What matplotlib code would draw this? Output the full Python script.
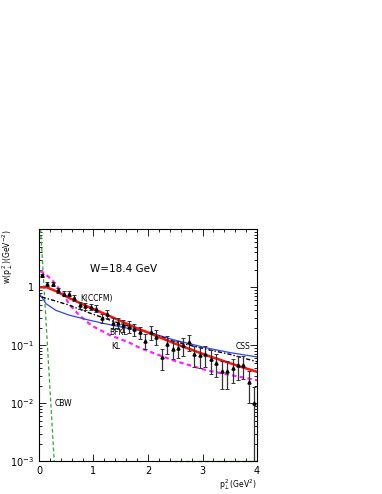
import numpy as np
import matplotlib.pyplot as plt
from matplotlib.ticker import MultipleLocator, LogLocator, FixedLocator, NullFormatter

# data points (W = 18.4 GeV)
pt2 = [0.05, 0.15, 0.25, 0.35, 0.45, 0.55, 0.65, 0.75, 0.85, 0.95,
       1.05, 1.15, 1.25, 1.35, 1.45, 1.55, 1.65, 1.75, 1.85, 1.95,
       2.05, 2.15, 2.25, 2.35, 2.45, 2.55, 2.65, 2.75, 2.85, 2.95,
       3.05, 3.15, 3.25, 3.35, 3.45, 3.55, 3.65, 3.75, 3.85, 3.95]
w = [1.6, 1.15, 1.15, 0.88, 0.78, 0.78, 0.66, 0.49, 0.47, 0.46,
     0.43, 0.29, 0.35, 0.24, 0.24, 0.22, 0.21, 0.19, 0.17, 0.12,
     0.17, 0.14, 0.063, 0.107, 0.088, 0.091, 0.10, 0.114, 0.07, 0.067,
     0.07, 0.057, 0.05, 0.036, 0.036, 0.04, 0.045, 0.046, 0.023, 0.010]
w_err = [0.12, 0.09, 0.09, 0.08, 0.07, 0.07, 0.07, 0.06, 0.06, 0.06,
         0.06, 0.05, 0.06, 0.05, 0.05, 0.05, 0.05, 0.045, 0.04, 0.035,
         0.045, 0.04, 0.025, 0.035, 0.03, 0.03, 0.035, 0.035, 0.028, 0.027,
         0.027, 0.025, 0.022, 0.018, 0.018, 0.018, 0.02, 0.02, 0.013, 0.0095]

# model curves
x_kccfm = [0.0, 0.14, 0.31, 0.56, 0.86, 1.17, 1.47, 1.78, 2.04, 2.46, 3.08, 3.69, 4.0]
y_kccfm = [1.0, 1.0, 0.86, 0.65, 0.48, 0.36, 0.27, 0.20, 0.16, 0.11, 0.067, 0.043, 0.035]

x_css = [0.02, 0.13, 0.31, 0.56, 0.86, 1.17, 1.47, 1.78, 2.04, 2.46, 3.08, 3.5, 4.0]
y_css = [0.75, 0.52, 0.40, 0.33, 0.28, 0.24, 0.21, 0.185, 0.165, 0.125, 0.09, 0.075, 0.063]

x_bfkl = [0.05, 0.25, 0.56, 0.86, 1.17, 1.47, 1.78, 2.04, 2.46, 3.08, 3.5, 4.0]
y_bfkl = [0.68, 0.60, 0.49, 0.38, 0.30, 0.24, 0.195, 0.165, 0.118, 0.085, 0.07, 0.052]

x_kl = [0.02, 0.1, 0.25, 0.43, 0.56, 0.74, 0.96, 1.3, 1.67, 1.85, 2.46, 3.08, 4.0]
y_kl = [1.9, 1.75, 1.3, 0.8, 0.5, 0.33, 0.22, 0.15, 0.11, 0.09, 0.055, 0.037, 0.025]

x_cbw = [0.03, 0.28]
y_cbw = [10.0, 0.001]
x_cbw_tail = [2.45, 4.0]
y_cbw_tail = [0.00102, 0.00102]

fig = plt.figure(figsize=(3.82, 4.94), dpi=100)
ax = fig.add_axes([0.102, 0.066, 0.571, 0.47])

ax.plot(x_cbw, y_cbw, color='#33aa33', ls=(0, (3, 2)), lw=0.9)
ax.plot(x_cbw_tail, y_cbw_tail, color='#33aa33', ls=(0, (3, 2)), lw=0.9, clip_on=False)
ax.plot(x_kl, y_kl, color='#ff22ff', ls=(0, (2, 1.5)), lw=1.6)
ax.plot(x_css, y_css, color='#3344ee', lw=0.9)
ax.plot(x_bfkl, y_bfkl, color='black', ls=(0, (3, 1.5, 1, 1.5)), lw=1.0)
ax.plot(x_kccfm, y_kccfm, color='#ff1111', lw=1.8)
ax.errorbar(pt2, w, yerr=w_err, fmt='^', ms=2.2, color='black', ecolor='#333333',
            elinewidth=0.9, capsize=1.2, capthick=0.7)

ax.set_xlim(0, 4)
ax.set_ylim(1e-3, 10)
ax.set_yscale('log')

ax.xaxis.set_major_locator(MultipleLocator(1))
ax.xaxis.set_minor_locator(MultipleLocator(0.2))
ax.yaxis.set_major_locator(FixedLocator([1e-3, 1e-2, 1e-1, 1]))
ax.yaxis.set_minor_locator(LogLocator(base=10, subs=np.arange(2, 10)))
ax.yaxis.set_minor_formatter(NullFormatter())
ax.set_yticklabels([r'$10^{-3}$', r'$10^{-2}$', r'$10^{-1}$', '1'])
ax.tick_params(which='both', direction='in', top=True, right=True, labelsize=7, width=0.6)
ax.tick_params(which='major', length=5)
ax.tick_params(which='minor', length=2.5)
for s in ax.spines.values():
    s.set_linewidth(0.8)

ax.text(1.55, 2.1, 'W=18.4 GeV', fontsize=7.5, ha='center', va='center')
ax.text(0.75, 0.65, 'K(CCFM)', fontsize=5.5, va='center')
ax.text(1.28, 0.168, 'BFKL', fontsize=5.5, va='center')
ax.text(1.33, 0.094, 'KL', fontsize=5.5, va='center')
ax.text(3.6, 0.097, 'CSS', fontsize=5.5, va='center')
ax.text(0.29, 0.0098, 'CBW', fontsize=5.5, va='center')

fig.text(0.02, 0.535, r'w(p$_\perp^{\,2}$)(GeV$^{-2}$)', rotation=90, fontsize=5.5, ha='center', va='top')
fig.text(0.673, 0.004, r'p$_\perp^{\,2}$(GeV$^2$)', fontsize=5.5, ha='right', va='bottom')

plt.savefig('out.png', dpi=100)
